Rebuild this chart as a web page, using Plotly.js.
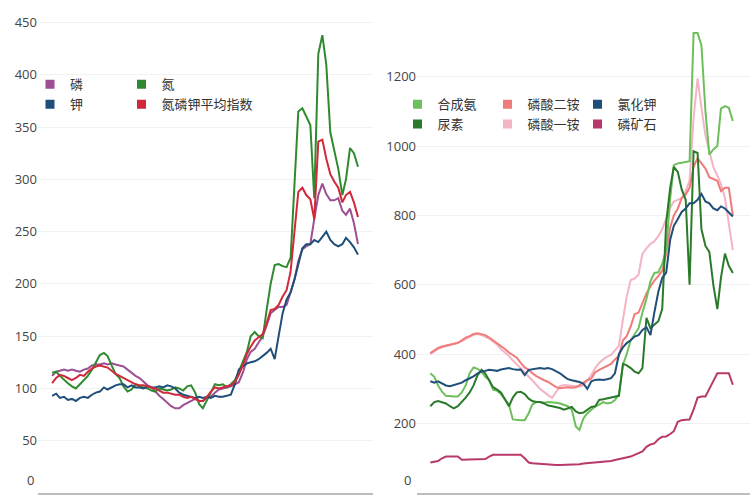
<!DOCTYPE html>
<html>
<head>
<meta charset="utf-8">
<script src="https://cdn.plot.ly/plotly-3.0.1.min.js"></script>
<style>
  html, body { margin: 0; padding: 0; background: #fff; }
  #chart { width: 750px; height: 500px; }
</style>
</head>
<body>
<div id="chart"></div>
<script>
// monthly points, Jan 2016 - Jun 2022
var months = [];
for (var yr = 2016; yr <= 2022; yr++) {
    for (var m = 1; m <= 12; m++) {
        if (yr === 2022 && m > 6) break;
        months.push(yr + '-' + (m < 10 ? '0' + m : m) + '-01');
    }
}

// left panel: 氮磷钾价格指数
var phosphorus = [112,116,117,118,117,118,117,116,118,119,122,123,123,124,123,124,123,122,121,118,
    115,112,110,107,103,101,97,93,90,86,83,81,81,84,86,88,90,88,88,91,
    92,96,99,100,101,102,104,106,115,128,135,138,144,150,160,172,175,178,178,180,
    192,205,222,233,236,238,262,285,296,286,280,280,282,270,266,272,258,238];
var nitrogen = [115,116,112,108,105,102,100,104,108,112,118,125,132,134,131,122,114,110,102,97,
    99,104,102,101,100,98,97,100,99,98,99,101,100,98,102,103,96,85,81,88,
    96,104,103,104,101,104,108,116,125,135,150,154,150,148,175,200,218,219,217,216,
    225,300,365,368,360,352,282,420,438,410,345,328,310,285,300,330,325,312];
var potassium = [93,95,91,92,89,90,88,91,92,91,94,96,97,101,99,101,103,104,104,101,
    103,101,101,100,102,101,101,102,101,103,102,100,96,94,93,92,91,92,91,92,
    91,93,92,92,93,94,104,118,121,124,125,126,128,131,134,138,128,150,172,185,
    192,205,218,234,238,238,242,240,245,250,242,238,236,238,244,240,235,228];
var npkIndex = [105,110,113,112,110,108,110,113,112,116,119,121,122,121,120,117,114,112,110,108,
    106,104,103,103,102,101,100,98,96,96,95,94,94,92,91,92,90,88,88,92,
    97,101,100,101,102,103,106,113,122,133,140,146,149,152,162,175,176,180,188,194,
    212,250,288,292,285,281,262,336,338,320,305,298,292,278,285,288,278,264];

// right panel: 化肥品种价格
var ammonia = [345,335,310,292,280,278,278,278,290,310,345,362,358,350,335,326,298,295,285,270,
    255,212,210,210,210,230,255,262,262,260,262,262,260,258,255,250,240,192,182,215,
    230,240,249,255,262,258,260,268,285,370,400,440,458,475,520,560,610,634,636,660,
    700,850,945,950,952,955,956,1326,1326,1290,1100,975,990,1000,1108,1115,1110,1072];
var urea = [250,262,265,262,258,250,244,250,262,275,290,310,340,355,345,325,305,298,290,270,
    250,275,290,292,285,272,265,262,262,258,252,250,248,245,240,245,248,235,230,232,
    240,248,250,268,270,272,274,276,280,372,368,360,350,345,360,505,475,485,495,530,
    780,880,940,925,875,845,600,985,980,760,712,695,600,530,620,690,655,634];
var dap = [403,410,418,422,425,428,430,433,440,448,452,458,460,458,455,448,440,433,425,415,
    405,398,390,375,362,355,345,337,330,325,320,312,305,302,303,305,303,305,310,318,
    325,330,348,355,360,365,372,385,395,440,452,480,515,520,550,575,595,612,625,640,
    690,765,800,820,850,860,880,940,965,950,935,910,905,900,870,880,880,800];
var map = [400,408,415,420,423,426,430,432,438,445,450,456,458,455,450,445,436,428,415,405,
    395,382,372,360,348,335,322,312,300,290,282,274,290,308,311,310,311,308,306,310,
    325,340,360,375,385,393,398,410,425,500,566,614,618,630,690,705,718,725,740,760,
    790,822,840,845,850,870,900,1080,1195,1110,1030,985,940,915,890,850,780,700];
var potashChloride = [322,318,322,316,310,308,312,315,318,325,330,336,345,350,352,355,354,352,356,358,
    360,357,355,356,340,355,357,358,360,358,360,357,352,345,336,328,325,323,320,315,
    300,322,326,327,326,328,331,345,400,420,432,440,451,455,470,478,455,520,580,620,
    635,730,770,790,810,820,835,835,845,862,840,835,820,815,826,820,808,797];
var phosphateRock = [88,90,92,100,105,105,105,105,96,96,97,98,98,98,98,105,110,110,110,110,
    110,110,110,110,100,88,86,85,84,82,81,81,81,81,81,81,81,81,83,85,
    86,86,87,87,89,91,92,95,97,100,102,105,110,115,120,133,140,143,155,162,
    163,170,178,205,210,211,212,240,275,278,278,300,325,345,345,345,345,312];

var leftTicks = [50, 100, 150, 200, 250, 300, 350, 400, 450];
var rightTicks = [200, 400, 600, 800, 1000, 1200];

var cjk = '"Noto Sans CJK SC", "Noto Sans", sans-serif';

var leftSeries = [
    {name: '磷', y: phosphorus, color: '#9c4f93', legend: 'legend'},
    {name: '钾', y: potassium, color: '#1f4e79', legend: 'legend'},
    {name: '氮', y: nitrogen, color: '#2f8a2f', legend: 'legend2'},
    {name: '氮磷钾平均指数', y: npkIndex, color: '#d1283a', legend: 'legend2'}
];
var rightSeries = [
    {name: '合成氨', y: ammonia, color: '#6dbf5c', legend: 'legend3'},
    {name: '尿素', y: urea, color: '#2b7a2b', legend: 'legend3'},
    {name: '磷酸二铵', y: dap, color: '#f07b7b', legend: 'legend4'},
    {name: '磷酸一铵', y: map, color: '#f3b4c4', legend: 'legend4'},
    {name: '氯化钾', y: potashChloride, color: '#1f4e79', legend: 'legend5'},
    {name: '磷矿石', y: phosphateRock, color: '#b8386a', legend: 'legend5'}
];

var traces = [];
// draw order so the overlaps look like the original
var leftDraw = [0, 2, 1, 3];
leftDraw.forEach(function (k) {
    var s = leftSeries[k];
    traces.push({x: months, y: s.y, type: 'scatter', mode: 'lines', name: s.name,
        line: {color: s.color, width: 2}, showlegend: false, xaxis: 'x', yaxis: 'y'});
});
var rightDraw = [3, 2, 5, 0, 1, 4];
rightDraw.forEach(function (k) {
    var s = rightSeries[k];
    traces.push({x: months, y: s.y, type: 'scatter', mode: 'lines', name: s.name,
        line: {color: s.color, width: 2}, showlegend: false, xaxis: 'x2', yaxis: 'y2'});
});

// square legend swatches
leftSeries.concat(rightSeries).forEach(function (s, i) {
    traces.push({x: [null], y: [null], type: 'scatter', mode: 'markers', name: s.name,
        marker: {symbol: 'square', size: 9, color: s.color},
        legend: s.legend, xaxis: i < 4 ? 'x' : 'x2', yaxis: i < 4 ? 'y' : 'y2'});
});

function legendAt(x, y) {
    return {x: x, y: y, xanchor: 'left', yanchor: 'top', orientation: 'v',
        bgcolor: 'rgba(0,0,0,0)', font: {family: cjk, size: 13, color: '#333'},
        tracegroupgap: 0, itemclick: false};
}

var tickFont = {family: '"Open Sans", "DejaVu Sans", sans-serif', size: 13, color: '#444'};

var layout = {
    width: 750,
    height: 500,
    margin: {l: 0, r: 0, t: 10, b: 7},
    paper_bgcolor: '#fff',
    plot_bgcolor: '#fff',
    showlegend: true,
    xaxis: {domain: [38 / 750, 373 / 750], type: 'date', range: ['2015-09-15', '2022-09-24'],
        showticklabels: false, showgrid: false, zeroline: false,
        showline: true, linecolor: '#bdbdbd', linewidth: 2},
    yaxis: {range: [0, 462], tickvals: leftTicks, tickfont: tickFont,
        showgrid: true, gridcolor: '#f1f1f1', zeroline: false, showline: false},
    xaxis2: {domain: [417 / 750, 1], type: 'date', range: ['2015-09-20', '2022-10-12'],
        showticklabels: false, showgrid: false, zeroline: false,
        showline: true, linecolor: '#bdbdbd', linewidth: 2},
    yaxis2: {anchor: 'x2', range: [0, 1392], tickvals: rightTicks, tickfont: tickFont,
        showgrid: true, gridcolor: '#f1f1f1', zeroline: false, showline: false},
    legend: legendAt(0.040, 0.877),
    legend2: legendAt(0.162, 0.877),
    legend3: legendAt(0.530, 0.836),
    legend4: legendAt(0.650, 0.836),
    legend5: legendAt(0.770, 0.836),
    annotations: [
        {xref: 'paper', yref: 'y', x: 36 / 750, y: 0, yshift: 13, xanchor: 'right', yanchor: 'middle',
            text: '0', showarrow: false, font: tickFont},
        {xref: 'paper', yref: 'y2', x: 413 / 750, y: 0, yshift: 13, xanchor: 'right', yanchor: 'middle',
            text: '0', showarrow: false, font: tickFont}
    ]
};

Plotly.newPlot('chart', traces, layout, {staticPlot: true});
</script>
</body>
</html>
